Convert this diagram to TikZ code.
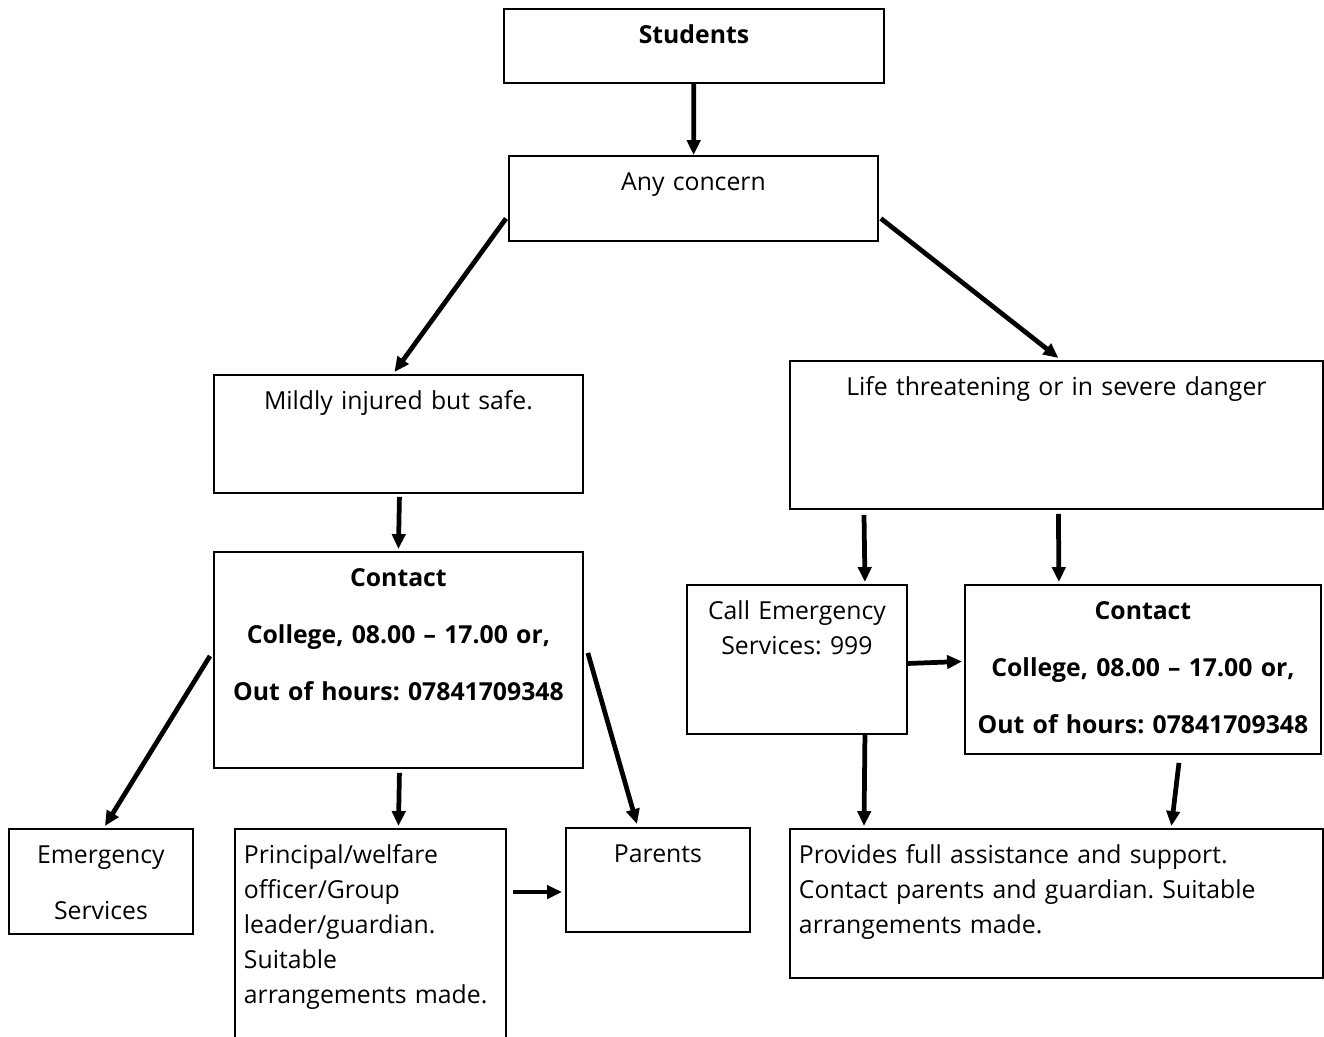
\documentclass[tikz,border=0pt]{standalone}
\usepackage{fontspec}
\setmainfont{Open Sans}
\usepackage{xcolor}
\usepackage{tikz}
\usetikzlibrary{arrows.meta,calc}

\frenchspacing
\newcommand{\boxfont}{\fontsize{14.1pt}{19.9pt}\selectfont}

\begin{document}
\begin{tikzpicture}[
    x=0.02cm,
    y=-0.02cm,
    block/.style={
        rectangle,
        draw,
        line width=1.1pt,
        anchor=north west,
        inner sep=0pt,
        text centered,
        text height=0.7cm,
        font=\boxfont
    },
    leftblock/.style={
        block,
        align=left,
        inner xsep=0.18cm
    },
    line/.style={
        draw, line width=2.7pt, -{Triangle[length=8.5pt,width=7.5pt]}
    }
]
    \clip (0,0) rectangle (1324,1036);

    % Nodes
    \node [block, font=\boxfont\bfseries, text width=7.6cm, text depth=0.78cm] (students) at (503,8) {Students};
    \node [block, text width=7.38cm, text depth=1.0cm] (any_concern) at (508,155) {Any concern};
    \node [block, text width=7.38cm, text depth=1.66cm] (mild) at (213,374) {Mildly injured but safe.};
    \node [block, text width=10.66cm, text depth=2.26cm] (severe) at (789,360) {Life threatening or in severe danger};
    \node [block, font=\boxfont\bfseries, text width=7.38cm, text depth=3.62cm] (contact_l) at (213,551) {Contact\\[0.44cm] College, 08.00 – 17.00 or,\\[0.44cm] Out of hours: 07841709348};
    \node [block, text width=4.4cm, text depth=2.28cm] (call_es) at (686,584) {Call Emergency\\ Services: 999};
    \node [block, font=\boxfont\bfseries, text width=7.12cm, text depth=2.68cm] (contact_r) at (964,584) {Contact\\[0.44cm] College, 08.00 – 17.00 or,\\[0.44cm] Out of hours: 07841709348};
    \node [block, text width=3.68cm, text depth=1.4cm] (emergency) at (8,828) {Emergency\\[0.42cm] Services};
    \node [leftblock, text width=5.06cm, text depth=3.64cm] (welfare) at (234,828) {Principal/welfare\\ officer/Group\\ leader/guardian.\\ Suitable\\ arrangements made.};
    \node [block, text width=3.68cm, text depth=1.38cm] (parents) at (565,827) {Parents};
    \node [leftblock, text width=10.3cm, text depth=2.28cm] (support) at (789,828) {Provides full assistance and support.\\ Contact parents and guardian. Suitable\\ arrangements made.};

    % Edges
    \path [line] (students) -- (any_concern);
    \path [line] ($(any_concern.west)+(-2,20)$) -- ($(mild.north)+(-4,-2)$);
    \path [line] ($(any_concern.east)+(2,20)$) -- ($(severe.north)+(2,-2)$);
    \path [line] ($(mild.south)+(1,3)$) -- ($(contact_l.north)+(0,-2)$);
    \path [line] ($(severe.south west)+(75,5)$) -- ($(call_es.north)+(68,-2)$);
    \path [line] ($(severe.south)+(2,4)$) -- ($(contact_r.north)+(-84,-2)$);
    \path [line] ($(contact_l.west)+(-3,-4)$) -- ($(emergency.north)+(4,-2)$);
    \path [line] ($(contact_l.south)+(1,4)$) -- ($(welfare.north)+(28,-2)$);
    \path [line] ($(contact_l.east)+(4,-7)$) -- ($(parents.north)+(-21,-3)$);
    \path [line] ($(welfare.north east)+(6,64)$) -- ($(parents.north west)+(-3,65)$);
    \path [line] ($(call_es.east)+(0,4)$) -- ($(contact_r.west)+(-2,-8)$);
    \path [line] ($(call_es.south)+(68,0)$) -- ($(support.north west)+(75,-2)$);
    \path [line] ($(contact_r.south)+(36,8)$) -- ($(support.north)+(115,-2)$);

\end{tikzpicture}
\end{document}
